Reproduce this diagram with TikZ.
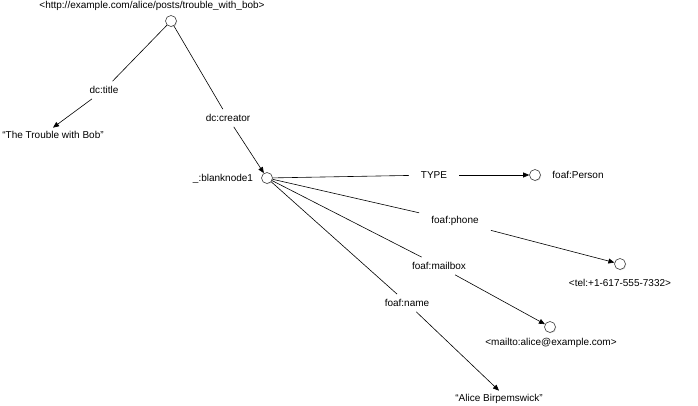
\documentclass[tikz,border=0pt]{standalone}
\usepackage{fontspec}
\setmainfont{Liberation Sans}
\usetikzlibrary{arrows.meta,shadows}
\begin{document}
\begin{tikzpicture}[x=1pt,y=-1pt,
  font=\fontsize{10}{12}\selectfont,
  res/.style={circle,draw=black!75,fill=white,line width=0.6pt,minimum size=11pt,inner sep=0pt,
    drop shadow={opacity=0.25,shadow xshift=0.8pt,shadow yshift=-0.8pt}},
  txt/.style={inner sep=1pt},
  lit/.style={inner sep=3.5pt},
  prop/.style={inner xsep=12pt,inner ysep=5pt},
  ln/.style={draw=black,line width=0.6pt},
  arr/.style={ln,-{Triangle[length=6pt,width=5pt]}}]
\useasboundingbox (0,0) rectangle (698,406);
% resources
\node[res] (post) at (171,21) {};
\node[res] (blank) at (267,178) {};
\node[res] (person) at (535,175) {};
\node[res] (tel) at (620,264) {};
\node[res] (mail) at (550,327) {};
% resource labels
\node[txt] (postlbl) at (152,6) {<http://example.com/alice/posts/trouble\_with\_bob>};
\node[txt] (blanklbl) at (223,179) {\_:blanknode1};
\node[txt] (personlbl) at (578,175) {foaf:Person};
\node[txt] (tellbl) at (620,283) {<tel:+1-617-555-7332>};
\node[txt] (maillbl) at (551,343) {<mailto:alice@example.com>};
% literals
\node[lit] (trouble) at (53,135) {“The Trouble with Bob”};
\node[lit] (alice) at (499,399) {“Alice Birpemswick”};
% property labels
\node[prop] (title) at (104,90) {dc:title};
\node[prop] (creator) at (228,118) {dc:creator};
\node[prop] (type) at (434,175) {TYPE};
\node[prop] (phone) at (455,221) {foaf:phone};
\node[prop] (mailbox) at (439,266) {foaf:mailbox};
\node[prop] (name) at (407,303) {foaf:name};
% connectors
\draw[ln] (post) -- (title);
\draw[arr] (title) -- (trouble.north);
\draw[ln] (post) -- (creator);
\draw[arr] (creator) -- (blank);
\draw[ln] (blank) -- (type);
\draw[arr] (type) -- (person);
\draw[ln] (blank) -- (phone);
\draw[arr] (phone) -- (tel);
\draw[ln] (blank) -- (mailbox);
\draw[arr] (mailbox) -- (mail);
\draw[ln] (blank) -- (name);
\draw[arr] (name) -- (alice.north);
\end{tikzpicture}
\end{document}
